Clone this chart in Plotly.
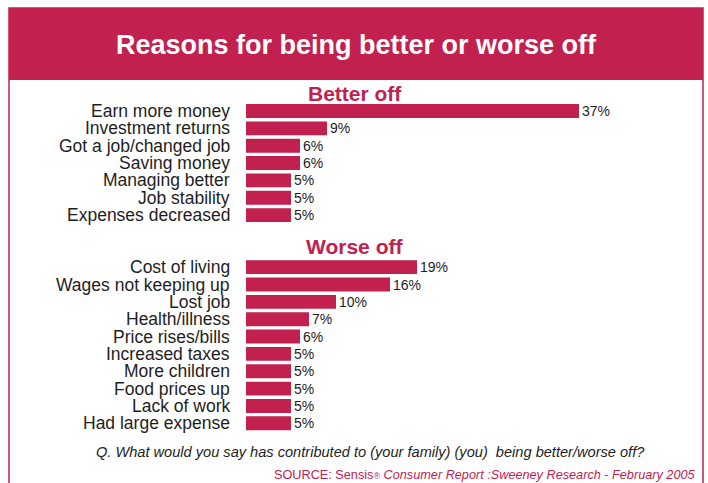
import plotly.graph_objects as go

# Survey results: reasons people gave for being better or worse off
better_labels = ["Earn more money", "Investment returns", "Got a job/changed job",
                 "Saving money", "Managing better", "Job stability", "Expenses decreased"]
better_values = [37, 9, 6, 6, 5, 5, 5]

worse_labels = ["Cost of living", "Wages not keeping up", "Lost job", "Health/illness",
                "Price rises/bills", "Increased taxes", "More children", "Food prices up",
                "Lack of work", "Had large expense"]
worse_values = [19, 16, 10, 7, 6, 5, 5, 5, 5, 5]

W, H = 708, 483
CRIMSON = "#C2214F"
TEXT = "#1e1e1e"
FONT = "Liberation Sans, Arial, sans-serif"

# Row slots: better-off rows, two empty slots for the second heading, then worse-off rows
better_rows = list(range(len(better_labels)))
worse_start = len(better_labels) + 2
worse_rows = [worse_start + i for i in range(len(worse_labels))]

# Axis geometry: bars start at x=246px, 9px per percentage point; rows 17.35px apart
X0_PX, PX_PER_PCT = 246, 9.0
ROW0_PX, ROW_PX = 111, 17.35
x_range = [-X0_PX / PX_PER_PCT, (W - X0_PX) / PX_PER_PCT]
y_range = [(H - ROW0_PX) / ROW_PX, -ROW0_PX / ROW_PX]


def py(px):
    """Pixel row from the top of the page -> paper y."""
    return 1 - px / H


def px_x(px):
    return px / W


fig = go.Figure()

for rows, vals in ((better_rows, better_values), (worse_rows, worse_values)):
    fig.add_trace(go.Bar(
        x=vals, y=rows, orientation="h",
        width=0.8,
        marker=dict(color=CRIMSON, line=dict(width=0)),
        text=[f"{v}%" for v in vals],
        textposition="outside",
        constraintext="none",
        textfont=dict(family=FONT, size=14, color=TEXT),
        cliponaxis=False,
        hoverinfo="skip",
    ))

annotations = []
for rows, labels in ((better_rows, better_labels), (worse_rows, worse_labels)):
    for r, lab in zip(rows, labels):
        annotations.append(dict(
            x=-1.55, y=r, xref="x", yref="y", text=lab, showarrow=False,
            xanchor="right", yanchor="middle",
            font=dict(family=FONT, size=17.5, color=TEXT),
        ))

# Section headings
for label, row in (("Better off", -1), ("Worse off", worse_start - 1.2)):
    annotations.append(dict(
        x=px_x(355), y=row, xref="paper", yref="y", text=f"<b>{label}</b>",
        showarrow=False, xanchor="center", yanchor="middle",
        font=dict(family=FONT, size=21, color=CRIMSON),
    ))

# Title in the banner
annotations.append(dict(
    x=px_x(356), y=py(45), xref="paper", yref="paper",
    text="<b>Reasons for being better or worse off</b>", showarrow=False,
    xanchor="center", yanchor="middle",
    font=dict(family=FONT, size=27, color="white"),
))

# Question and source notes
annotations.append(dict(
    x=px_x(370), y=py(452), xref="paper", yref="paper",
    text="<i>Q. What would you say has contributed to (your family) (you)  being better/worse off?</i>",
    showarrow=False, xanchor="center", yanchor="middle",
    font=dict(family=FONT, size=14.6, color=TEXT),
))
annotations.append(dict(
    x=px_x(698), y=py(475), xref="paper", yref="paper",
    text="SOURCE: Sensis<span style='font-size:9px'>®</span> "
         "<i>Consumer Report :Sweeney Research - February 2005</i>",
    showarrow=False, xanchor="right", yanchor="middle",
    font=dict(family=FONT, size=12.7, color=CRIMSON),
))

shapes = [
    # outer frame
    dict(type="rect", xref="paper", yref="paper",
         x0=px_x(9), x1=px_x(703), y0=py(490), y1=py(8),
         line=dict(color=CRIMSON, width=1.5), fillcolor="rgba(0,0,0,0)", layer="below"),
    # title banner
    dict(type="rect", xref="paper", yref="paper",
         x0=px_x(9), x1=px_x(703), y0=py(80), y1=py(8),
         line=dict(width=0), fillcolor=CRIMSON, layer="below"),
]

fig.update_layout(
    width=W, height=H,
    margin=dict(l=0, r=0, t=0, b=0),
    paper_bgcolor="white", plot_bgcolor="white",
    showlegend=False,
    barmode="overlay",
    xaxis=dict(range=x_range, visible=False, fixedrange=True),
    yaxis=dict(range=y_range, visible=False, fixedrange=True),
    annotations=annotations,
    shapes=shapes,
    font=dict(family=FONT),
)

fig.write_html("out.html", config={"displayModeBar": False})
